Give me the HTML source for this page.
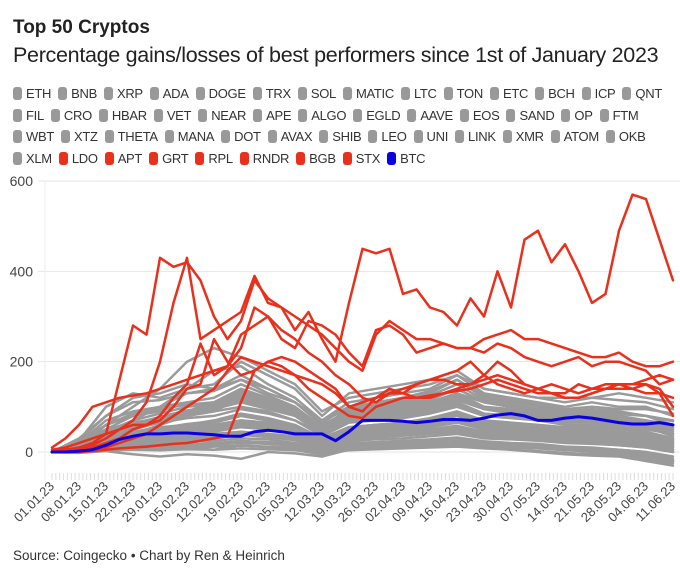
<!DOCTYPE html>
<html><head><meta charset="utf-8">
<style>
body{margin:0;background:#fff;font-family:"Liberation Sans",sans-serif;color:#222}
#wrap{position:relative;width:680px;height:568px;overflow:hidden;background:#fff}
#title{position:absolute;left:13px;top:17px;font-size:19px;font-weight:bold;color:#222}
#sub{position:absolute;left:13px;top:43px;font-size:21.5px;color:#222;letter-spacing:-0.3px;white-space:nowrap}
#legend{position:absolute;left:13px;top:86px;width:667px;display:flex;flex-wrap:wrap;row-gap:3px}
.li{display:flex;align-items:center;font-size:13px;color:#333;margin-right:7px;height:15.5px;letter-spacing:-0.3px}
.br{flex-basis:100%;height:0}
.sw{width:9px;height:13px;border-radius:3px;background:#999;margin-right:4px}
#src{position:absolute;left:13px;top:548px;font-size:13.5px;color:#333}
svg{position:absolute;left:0;top:0}
</style></head><body>
<div id="wrap">
<div id="title">Top 50 Cryptos</div>
<div id="sub">Percentage gains/losses of best performers since 1st of January 2023</div>
<div id="legend"></div>
<svg id="chart" width="680" height="568"></svg>
<div id="src">Source: Coingecko • Chart by Ren &amp; Heinrich</div>
</div>
<script>
const grayNames=["ETH","BNB","XRP","ADA","DOGE","TRX","SOL","MATIC","LTC","TON","ETC","BCH","ICP","QNT","FIL","CRO","HBAR","VET","NEAR","APE","ALGO","EGLD","AAVE","EOS","SAND","OP","FTM","WBT","XTZ","THETA","MANA","DOT","AVAX","SHIB","LEO","UNI","LINK","XMR","ATOM","OKB","XLM"];
const redNames=["LDO","APT","GRT","RPL","RNDR","BGB","STX"];
const blueName="BTC";
const yTicks=[0,200,400,600];
const xLabels=["01.01.23","08.01.23","15.01.23","22.01.23","29.01.23","05.02.23","12.02.23","19.02.23","26.02.23","05.03.23","12.03.23","19.03.23","26.03.23","02.04.23","09.04.23","16.04.23","23.04.23","30.04.23","07.05.23","14.05.23","21.05.23","28.05.23","04.06.23","11.06.23"];
const gray=[
[0,20,60,80,90,110,100,130,110,90,50,100,110,120,130,160,120,110,100,90,95,90,80,60],
[0,15,40,60,70,80,90,100,90,70,40,70,80,90,100,120,100,90,80,70,75,70,60,40],
[0,10,30,45,55,60,65,80,70,55,30,55,60,65,75,90,70,65,60,55,55,50,45,30],
[0,8,25,35,40,45,50,60,55,45,25,45,50,55,60,70,55,50,45,40,40,35,30,20],
[0,5,15,25,30,35,40,45,40,35,15,35,40,45,50,55,45,40,35,30,30,25,20,10],
[0,3,10,15,20,25,25,30,28,20,5,25,28,30,35,40,30,28,25,20,18,15,10,0],
[0,-2,2,-5,-10,-5,-8,-15,0,-3,-10,5,8,10,12,15,10,5,0,-5,-8,-10,-20,-30],
[0,5,20,40,60,80,90,120,100,80,60,80,90,100,110,130,110,100,90,80,80,75,70,55],
[0,30,80,120,130,150,140,160,130,110,70,110,120,130,140,170,130,120,110,100,110,100,100,80],
[0,25,100,130,120,140,150,200,170,140,80,130,140,150,160,180,140,130,120,110,120,115,110,95],
[0,10,60,100,140,200,230,210,180,150,90,120,130,140,150,170,140,130,120,120,120,130,120,110],
[0,20,50,80,100,130,140,170,140,110,60,90,100,110,120,140,110,100,90,80,85,80,70,50],
[0,12,35,50,65,75,80,95,85,70,35,65,70,75,85,100,80,75,70,60,60,55,50,40],
[0,8,20,30,40,50,55,70,65,55,30,50,55,60,65,80,60,55,50,45,45,40,35,25],
[0,5,15,20,25,30,35,40,38,30,10,30,35,40,45,50,40,35,30,25,25,20,15,5],
[0,2,5,10,12,15,18,25,20,15,0,15,18,20,25,30,22,18,15,10,8,5,0,-10],
[0,0,5,8,5,10,5,15,10,5,-5,8,10,12,15,20,12,10,8,5,0,-5,-10,-20],
[0,15,45,70,85,100,105,130,115,90,50,85,95,100,110,130,100,95,85,75,75,70,60,45],
[0,10,30,55,70,85,95,120,105,85,45,75,80,85,95,110,85,80,75,65,65,60,55,35],
[0,18,50,65,75,90,95,110,95,80,40,70,75,80,90,105,85,80,75,70,70,65,60,50],
[0,6,18,28,35,42,48,58,50,42,20,40,45,50,55,65,50,45,40,35,35,30,25,15],
[0,4,12,18,22,28,30,38,33,26,8,28,32,36,40,45,35,30,28,22,20,15,10,0],
[0,3,8,12,15,18,20,24,22,18,5,20,22,25,28,32,24,20,18,12,10,5,0,-15],
[0,20,70,90,100,110,120,150,125,100,55,95,105,115,125,150,115,105,95,85,90,85,80,70],
[0,10,40,70,100,140,180,190,150,120,70,100,105,110,120,140,110,100,90,80,80,75,70,60],
[0,8,25,40,50,60,70,85,75,60,30,55,60,65,70,85,65,60,55,50,50,45,40,30],
[0,5,18,28,35,40,45,55,50,40,20,38,42,46,50,58,45,42,38,32,32,28,22,12],
[0,10,35,55,70,90,110,140,120,95,55,85,90,95,100,120,95,90,80,70,70,65,55,40],
[0,12,30,40,45,55,60,70,62,50,25,45,50,55,60,70,55,50,45,40,40,35,30,22],
[0,6,15,22,28,34,38,45,40,32,12,32,36,40,44,50,40,36,32,26,25,20,15,5],
[0,3,6,10,12,15,16,20,18,14,2,14,16,18,20,25,18,15,12,8,5,2,-5,-18],
[0,25,80,110,115,130,135,160,140,110,65,100,110,120,135,160,125,115,105,95,100,95,95,85],
[0,15,40,60,75,90,100,115,100,85,45,80,85,90,100,115,95,85,80,75,75,70,65,55],
[0,7,22,32,40,48,52,62,55,46,22,44,48,52,58,68,52,48,44,38,38,34,28,18],
[0,4,14,20,24,30,32,40,36,28,10,30,34,38,42,48,38,34,30,24,22,18,12,2],
[0,2,4,6,8,10,12,14,12,10,0,10,12,14,16,20,14,10,8,4,2,0,-8,-22],
[0,10,28,42,52,62,68,80,70,58,28,55,60,64,70,82,64,58,54,48,48,44,38,28],
[0,14,42,62,78,92,100,125,105,88,48,82,88,95,105,125,98,90,82,74,74,70,64,50],
[0,22,60,85,95,105,110,135,115,95,52,90,98,105,115,140,110,100,92,85,88,84,80,68],
[0,1,3,5,4,6,5,8,6,4,-5,4,6,8,10,12,8,5,2,-2,-5,-8,-15,-25],
[0,9,26,36,44,52,56,66,60,50,24,48,52,56,62,72,56,52,48,42,42,38,32,24]
];
const red=[
[0,5,10,20,40,160,280,260,430,410,420,380,300,250,290,380,340,320,270,310,250,200,330,450,440,450,350,360,320,310,280,340,300,400,320,470,490,420,460,400,330,350,490,570,560,470,380],
[0,3,8,15,30,50,70,110,200,330,430,250,270,290,310,390,330,320,300,280,260,230,200,180,260,290,270,250,250,240,230,230,220,240,230,210,200,190,200,210,190,200,200,190,180,150,160],
[10,30,60,100,110,120,125,130,140,150,160,170,180,190,260,280,300,270,250,220,200,170,150,120,110,130,140,150,160,160,150,150,160,170,160,150,140,150,140,130,140,150,150,140,130,130,120],
[5,10,20,30,40,50,60,60,70,100,140,150,250,200,170,180,200,190,170,140,120,100,80,75,100,110,120,120,125,130,135,140,150,160,150,140,130,130,120,120,130,140,140,140,150,130,80],
[0,3,5,10,20,30,50,60,80,120,150,240,170,190,230,320,300,250,230,290,280,260,220,190,270,280,260,220,230,240,230,230,250,260,270,250,250,240,230,220,210,210,220,200,190,190,200],
[0,2,4,6,10,20,30,40,60,80,100,120,140,180,210,200,190,180,170,160,150,130,100,110,120,130,130,150,160,170,180,200,170,150,140,130,140,130,130,150,140,140,150,150,150,140,100],
[0,0,0,2,5,8,10,12,15,18,20,25,30,35,110,180,200,210,200,180,160,140,100,90,120,140,130,120,120,130,140,150,170,200,180,150,140,130,120,120,130,140,150,150,160,170,160]
];
const btc=[0,0,2,5,15,28,35,40,40,42,42,40,38,35,35,45,48,45,40,40,40,25,45,70,70,70,68,65,68,72,72,70,75,82,85,80,70,70,75,78,75,70,65,62,62,65,60];

const NS="http://www.w3.org/2000/svg";
const svg=document.getElementById('chart');
const X0=52,X1=673,D=161;
function xDay(d){return X0+(X1-X0)*d/D;}
function yVal(v){return 452-v*(452-181)/600;}
function mk(t,a){const e=document.createElementNS(NS,t);for(const k in a)e.setAttribute(k,a[k]);svg.appendChild(e);return e;}

const leg=document.getElementById('legend');
const breaksAfter=["QNT","FTM","OKB"];
function addLeg(n,c){
  const d=document.createElement('div');d.className='li';
  
  
  const s=document.createElement('span');s.className='sw';s.style.background=c;
  d.appendChild(s);d.appendChild(document.createTextNode(n));leg.appendChild(d);
  if(breaksAfter.indexOf(n)>=0){const b=document.createElement('div');b.className='br';leg.appendChild(b);}
}
grayNames.forEach(n=>addLeg(n,'#999'));
redNames.forEach(n=>addLeg(n,'#e8301c'));
addLeg(blueName,'#0a00e0');

yTicks.forEach(v=>{
  const l=mk('line',{x1:38,x2:680,y1:yVal(v),y2:yVal(v),stroke:'#e6e6e6','stroke-width':1});
  
  
  const t=mk('text',{x:33,y:yVal(v)+5,'text-anchor':'end','font-size':14,fill:'#444','font-family':'Liberation Sans, sans-serif'});
  t.textContent=v;
  
  
});
const ax=mk('line',{x1:45,x2:45,y1:181,y2:480,stroke:'#eee','stroke-width':1});


for(let d=0;d<=D;d++){
  const tk=mk('line',{x1:xDay(d),x2:xDay(d),y1:473,y2:480,stroke:'#ddd','stroke-width':1});
  
  
}
xLabels.forEach((s,i)=>{
  const x=xDay(i*7)+3,y=487;
  const t=mk('text',{x:x,y:y,'text-anchor':'end','font-size':13,fill:'#444','font-family':'Liberation Sans, sans-serif',transform:'rotate(-45 '+x+' '+y+')'});
  t.textContent=s;
  
  
});
function line(vals,step,color,w,name){
  const pts=vals.map((v,i)=>xDay(Math.min(i*step,D)).toFixed(1)+','+yVal(v).toFixed(1)).join(' ');
  const p=mk('polyline',{points:pts,fill:'none',stroke:color,'stroke-width':w,'stroke-linejoin':'round','stroke-linecap':'round'});
  
  
}
gray.forEach((s,i)=>line(s,7,'#9a9a9a',2.5,'series-'+grayNames[i].toLowerCase()));
red.forEach((s,i)=>line(s,3.5,'#e8301c',2.5,'series-'+redNames[i].toLowerCase()));
line(btc,3.5,'#0a00e0',3,'series-btc');
</script>
</body></html>
